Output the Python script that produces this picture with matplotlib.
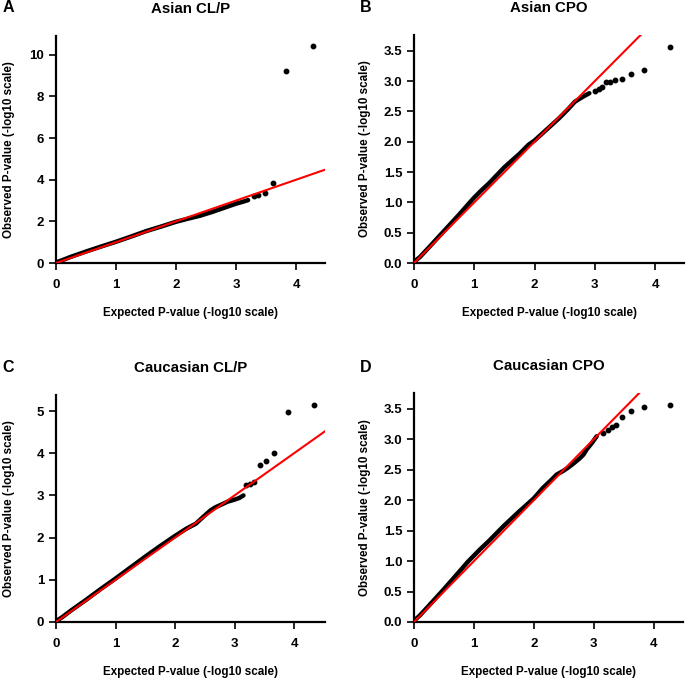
import matplotlib
matplotlib.use("Agg")
import matplotlib.pyplot as plt

plt.rcParams['font.family'] = ['Liberation Sans', 'DejaVu Sans']
plt.rcParams['font.weight'] = 'bold'

# panel A - Asian CL/P
a_x = [0, 0.1, 0.25, 0.5, 0.75, 1.0, 1.25, 1.5, 1.75, 2.0, 2.2, 2.4, 2.6, 2.8, 3.0, 3.1, 3.2]
a_y = [0.03, 0.13, 0.3, 0.55, 0.79, 1.02, 1.27, 1.53, 1.75, 1.98, 2.13, 2.27, 2.45, 2.65, 2.85, 2.93, 3.02]
a_tail_x = [3.29, 3.37, 3.48, 3.62, 3.83, 4.28]
a_tail_y = [3.2, 3.27, 3.36, 3.84, 9.23, 10.4]

# panel B - Asian CPO
b_x = [0, 0.1, 0.25, 0.5, 0.75, 0.9, 1.0, 1.1, 1.25, 1.5, 1.75, 1.9, 2.0, 2.2, 2.4, 2.55, 2.67, 2.8, 2.91]
b_y = [0.02, 0.1, 0.26, 0.53, 0.8, 0.97, 1.08, 1.18, 1.32, 1.58, 1.8, 1.95, 2.02, 2.2, 2.38, 2.53, 2.66, 2.74, 2.8]
b_tail_x = [3.0, 3.07, 3.12, 3.18, 3.25, 3.34, 3.45, 3.6, 3.81, 4.25]
b_tail_y = [2.84, 2.87, 2.9, 2.99, 2.99, 3.01, 3.03, 3.11, 3.18, 3.57]

# panel C - Caucasian CL/P
c_x = [0, 0.1, 0.25, 0.5, 0.75, 1.0, 1.25, 1.5, 1.75, 2.0, 2.2, 2.35, 2.48, 2.6, 2.68, 2.76, 2.88, 3.0, 3.08, 3.15]
c_y = [0.02, 0.11, 0.27, 0.52, 0.78, 1.03, 1.29, 1.55, 1.8, 2.04, 2.22, 2.33, 2.5, 2.65, 2.72, 2.77, 2.85, 2.9, 2.94, 3.0]
c_tail_x = [3.19, 3.26, 3.32, 3.42, 3.53, 3.67, 3.89, 4.33]
c_tail_y = [3.24, 3.26, 3.32, 3.72, 3.82, 4.0, 4.98, 5.14]

# panel D - Caucasian CPO
d_x = [0, 0.1, 0.25, 0.5, 0.75, 0.9, 1.0, 1.1, 1.25, 1.5, 1.75, 2.0, 2.15, 2.3, 2.38, 2.49,
       2.58, 2.66, 2.77, 2.83, 2.88, 2.97, 3.05]
d_y = [0.02, 0.11, 0.27, 0.54, 0.82, 0.99, 1.09, 1.19, 1.33, 1.58, 1.81, 2.03, 2.2, 2.34, 2.42, 2.48,
       2.54, 2.6, 2.69, 2.75, 2.83, 2.94, 3.05]
d_tail_x = [3.15, 3.23, 3.30, 3.38, 3.48, 3.63, 3.84, 4.28]
d_tail_y = [3.11, 3.16, 3.20, 3.23, 3.37, 3.47, 3.53, 3.57]

titles = ['Asian CL/P', 'Asian CPO', 'Caucasian CL/P', 'Caucasian CPO']
letters = ['A', 'B', 'C', 'D']

W, H = 687, 681
fig = plt.figure(figsize=(W / 100, H / 100), dpi=100)

# left, top, right, bottom in pixels
boxes = [(56, 36, 325, 263), (414, 35, 684, 263), (56, 395, 325, 622), (414, 393, 683, 622)]
xmaxes = [4.48, 4.48, 4.52, 4.49]
ylims = [10.9, 3.76, 5.38, 3.76]
yticks = [[0, 2, 4, 6, 8, 10],
          [0.0, 0.5, 1.0, 1.5, 2.0, 2.5, 3.0, 3.5],
          [0, 1, 2, 3, 4, 5],
          [0.0, 0.5, 1.0, 1.5, 2.0, 2.5, 3.0, 3.5]]
data = [(a_x, a_y, a_tail_x, a_tail_y), (b_x, b_y, b_tail_x, b_tail_y),
        (c_x, c_y, c_tail_x, c_tail_y), (d_x, d_y, d_tail_x, d_tail_y)]
letter_pos = [(8, 8), (366, 8), (8, 367), (366, 367)]

for i in range(4):
    l, t, r, b = boxes[i]
    ax = fig.add_axes([l / W, 1 - b / H, (r - l) / W, (b - t) / H])
    xs, ys, tx, ty = data[i]
    ax.plot(xs, ys, color='black', lw=3.2, solid_capstyle='round', solid_joinstyle='round', zorder=2)
    ax.plot(tx, ty, 'o', color='black', ms=3.2, zorder=2)
    ax.axline((0, 0), slope=1, color='red', lw=1.5, zorder=3)
    ax.set_xlim(0, xmaxes[i])
    ax.set_ylim(0, ylims[i])
    ax.set_xticks([0, 1, 2, 3, 4])
    ax.set_yticks(yticks[i])
    if i in (1, 3):
        ax.set_yticklabels(['%.1f' % v for v in yticks[i]])
    ax.spines['top'].set_visible(False)
    ax.spines['right'].set_visible(False)
    ax.spines['left'].set_linewidth(1.6)
    ax.spines['bottom'].set_linewidth(1.6)
    ax.tick_params(axis='x', direction='out', length=5, width=1.2, pad=6.5, labelsize=9.5)
    ax.tick_params(axis='y', direction='out', length=5, width=1.2, pad=3.5, labelsize=9.5)
    ax.set_xlabel('Expected P-value (-log10 scale)', fontsize=8.4, fontweight='bold')
    ax.set_ylabel('Observed P-value (-log10 scale)', fontsize=8.4, fontweight='bold')
    ax.xaxis.set_label_coords(0.5, -50 / (b - t))
    ax.xaxis.label.set_va('center')
    ax.yaxis.set_label_coords(-(l - 9 if i in (0, 2) else 49) / (r - l), 0.5)
    ax.yaxis.label.set_va('center')
    ax.text(0.5, 1 + 27 / (b - t), titles[i], transform=ax.transAxes, ha='center', va='center',
            fontsize=10.8, fontweight='bold')
    lx, ly = letter_pos[i]
    fig.text(lx / W, 1 - ly / H, letters[i], ha='center', va='center', fontsize=11.5, fontweight='bold')

fig.savefig('out.png', dpi=100)
